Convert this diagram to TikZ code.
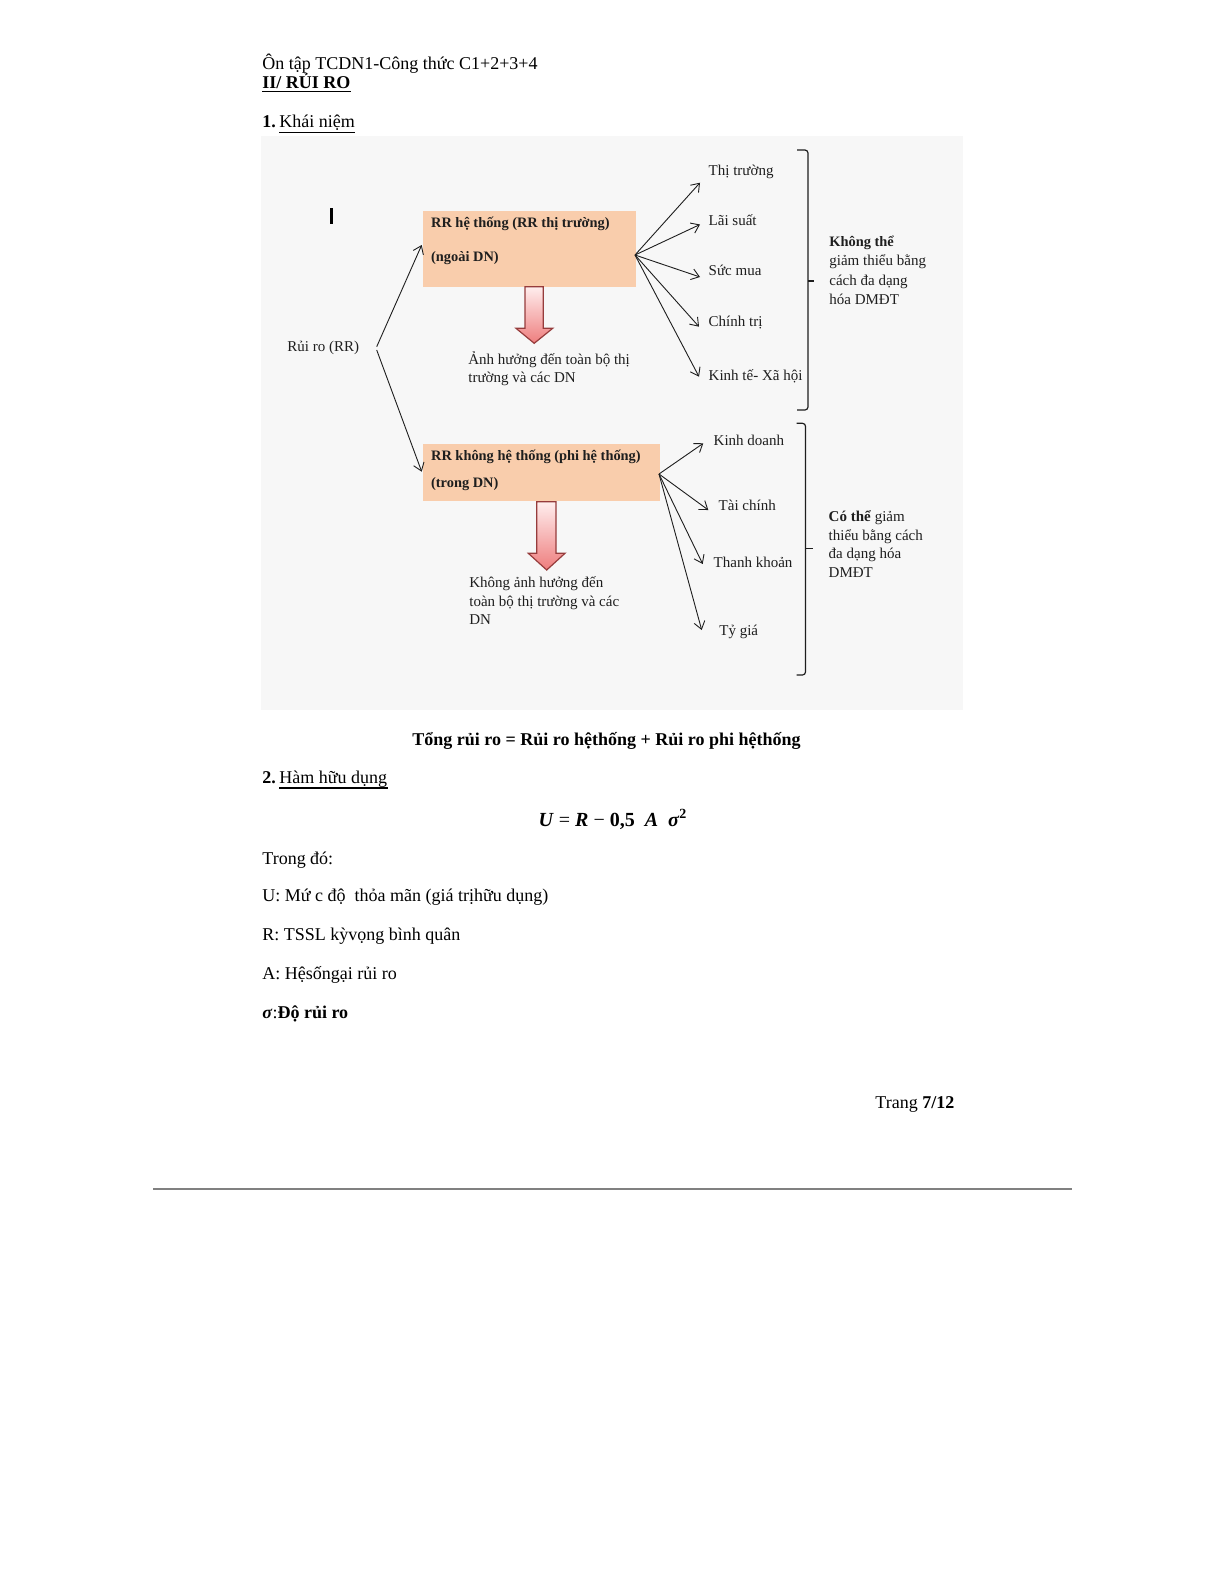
\documentclass[tikz,border=0pt]{standalone}
\usepackage{fontspec}
\setmainfont{Liberation Serif}
\usetikzlibrary{arrows.meta}
\definecolor{peach}{RGB}{249,205,172}
\definecolor{bggray}{RGB}{247,247,247}
\definecolor{arrowline}{RGB}{150,60,60}
\definecolor{pinktop}{RGB}{255,238,238}
\definecolor{pinkbot}{RGB}{238,125,125}
\definecolor{dtxt}{RGB}{30,30,30}
\begin{document}
\begin{tikzpicture}[x=0.5pt,y=-0.5pt,
 body/.style={anchor=base west,inner sep=0pt,font=\fontsize{9}{11}\selectfont},
 dtext/.style={anchor=base west,inner sep=0pt,text=dtxt,font=\fontsize{7.5}{9}\selectfont},
 dbold/.style={dtext,font=\fontsize{7.2}{9}\selectfont\bfseries},
 fan/.style={-{Straight Barb[length=3.8pt,width=5.5pt]},line width=0.45pt,dtxt},
 brk/.style={line width=0.6pt,dtxt},
 blockarrow/.style={top color=pinktop,bottom color=pinkbot,draw=arrowline,line width=0.6pt},
 ulin/.style={line width=0.7pt},
 riskbox/.style={fill=peach,inner sep=0pt,anchor=north west}]

\useasboundingbox[fill=white] (0,0) rectangle (1225,1585);

% header
\node[body] (hdr) at (262,69) {Ôn tập TCDN1-Công thức C1+2+3+4};
\node[body,font=\fontsize{9}{11}\selectfont\bfseries] (sec) at (262,88.5) {II/ RỦI RO};
\draw[ulin] ([yshift=-1.6pt]sec.base west) -- ([yshift=-1.6pt]sec.base east);
\node[body,font=\fontsize{9}{11}\selectfont\bfseries] (n1) at (262,127.5) {1.};
\node[body] (kn) at (279,127.5) {Khái niệm};
\draw[ulin] ([yshift=-2.4pt]kn.base west) -- ([yshift=-2.4pt]kn.base east);

% diagram background
\fill[bggray] (261,136) rectangle (963,710);

% mark
\draw[line width=1.4pt] (331.5,208) -- (331.5,224);

% boxes
\node[riskbox,minimum width=106.6pt,minimum height=37.8pt] (sys) at (422.5,211) {};
\node[riskbox,minimum width=118.3pt,minimum height=28.4pt] (nsys) at (422.5,444) {};
\node[dbold] (sysA) at (430.7,227) {RR hệ thống (RR thị trường)};
\node[dbold] (sysB) at (430.7,261.5) {(ngoài DN)};
\node[dbold] (nsysA) at (430.7,460) {RR không hệ thống (phi hệ thống)};
\node[dbold] (nsysB) at (430.7,487.3) {(trong DN)};

% block arrows
\path[blockarrow] (525,286.7) -- (543.3,286.7) -- (543.3,328.3) -- (552.7,328.3) -- (534.2,343.3) -- (516,328.3) -- (525,328.3) -- cycle;
\path[blockarrow] (536.7,501.7) -- (556,501.7) -- (556,553.3) -- (565,553.3) -- (546.7,570) -- (528.3,553.3) -- (536.7,553.3) -- cycle;

\node[dtext] (effA) at (468,364) {Ảnh hưởng đến toàn bộ thị};
\node[dtext] (effB) at (468,382) {trường và các DN};
\node[dtext] (neffA) at (469,587.3) {Không ảnh hưởng đến};
\node[dtext] (neffB) at (469,606) {toàn bộ thị trường và các};
\node[dtext] (neffC) at (469,624.5) {DN};

% root
\node[dtext] (root) at (287,351.7) {Rủi ro (RR)};
\coordinate (r1) at (376.7,346.7);
\coordinate (r2) at (376.7,350);
\coordinate (rt1) at (421.7,245);
\coordinate (rt2) at (421.7,471.7);
\draw[fan] (r1) -- (rt1);
\draw[fan] (r2) -- (rt2);

% fan 1
\coordinate (o1) at (635,255);
\coordinate (a1) at (700,182.7);
\coordinate (a2) at (700,224.5);
\coordinate (a3) at (700,277);
\coordinate (a4) at (699,326.7);
\coordinate (a5) at (699,376.7);
\foreach \t in {a1,a2,a3,a4,a5} \draw[fan] (o1) -- (\t);
\node[dtext] (l1) at (708.3,175) {Thị trường};
\node[dtext] (l2) at (708.3,225) {Lãi suất};
\node[dtext] (l3) at (708.3,275) {Sức mua};
\node[dtext] (l4) at (708.3,326.7) {Chính trị};
\node[dtext] (l5) at (708.3,380.7) {Kinh tế- Xã hội};

% fan 2
\coordinate (o2) at (659,474);
\coordinate (b1) at (703.3,443.3);
\coordinate (b2) at (708.3,510);
\coordinate (b3) at (702.7,564);
\coordinate (b4) at (701.7,630);
\foreach \t in {b1,b2,b3,b4} \draw[fan] (o2) -- (\t);
\node[dtext] (m1) at (713.3,445) {Kinh doanh};
\node[dtext] (m2) at (718.3,510) {Tài chính};
\node[dtext] (m3) at (713.3,567.3) {Thanh khoản};
\node[dtext] (m4) at (719,635) {Tỷ giá};

% brackets
\draw[brk,rounded corners=1.5pt] (797,150) -- (808,150) -- (808,410) -- (797,410);
\draw[brk] (808,281) -- (814,281);
\draw[brk,rounded corners=1.5pt] (796.7,423.3) -- (805.5,423.3) -- (805.5,675) -- (796.7,675);
\draw[brk] (805.5,548.3) -- (812.7,548.3);

\node[dbold] (k1) at (829,246.7) {Không thể};
\node[dtext] (k2) at (829,265.5) {giảm thiểu bằng};
\node[dtext] (k3) at (829,285.5) {cách đa dạng};
\node[dtext] (k4) at (829,304.5) {hóa  DMĐT};
\node[dtext] (c1) at (828.3,521.7) {\textbf{Có thể} giảm};
\node[dtext] (c2) at (828.3,540) {thiểu bằng cách};
\node[dtext] (c3) at (828.3,558.5) {đa dạng hóa};
\node[dtext] (c4) at (828.3,577) {DMĐT};

% total
\node[body,anchor=base,font=\fontsize{9}{11}\selectfont\bfseries] (total) at (606.5,745.5) {Tổng rủi ro = Rủi ro hệthống + Rủi ro phi hệthống};

% section 2
\node[body,font=\fontsize{9}{11}\selectfont\bfseries] (n2) at (262,783) {2.};
\node[body] (hd) at (279,783) {Hàm hữu dụng\ };
\draw[ulin] ([yshift=-2.4pt]hd.base west) -- ([yshift=-2.4pt]hd.base east);

\node[body,anchor=base,font=\fontsize{10}{12}\selectfont] (form) at (613,826)
 {\textbf{\textit{U}} = \textbf{\textit{R}} − \textbf{0,5}\ \ \textbf{\textit{A}}\ \ \textbf{\textit{σ}}\textsuperscript{\textbf{2}}};

\node[body] (td) at (262,864) {Trong đó:};
\node[body] (vu) at (262,901.5) {U: Mứ c độ\ \ thỏa mãn (giá trịhữu dụng)};
\node[body] (vr) at (262,940) {R: TSSL kỳvọng bình quân};
\node[body] (va) at (262,979) {A: Hệsốngại rủi ro};
\node[body] (vs) at (262,1018.5) {\textbf{\textit{σ}}:\textbf{Độ rủi ro}};

\node[body] (pg) at (875,1108) {Trang \textbf{7/12}};
\coordinate (gl1) at (153,1189);
\coordinate (gl2) at (1072,1189);
\draw[line width=0.8pt,black!50] (gl1) -- (gl2);
\end{tikzpicture}
\end{document}
